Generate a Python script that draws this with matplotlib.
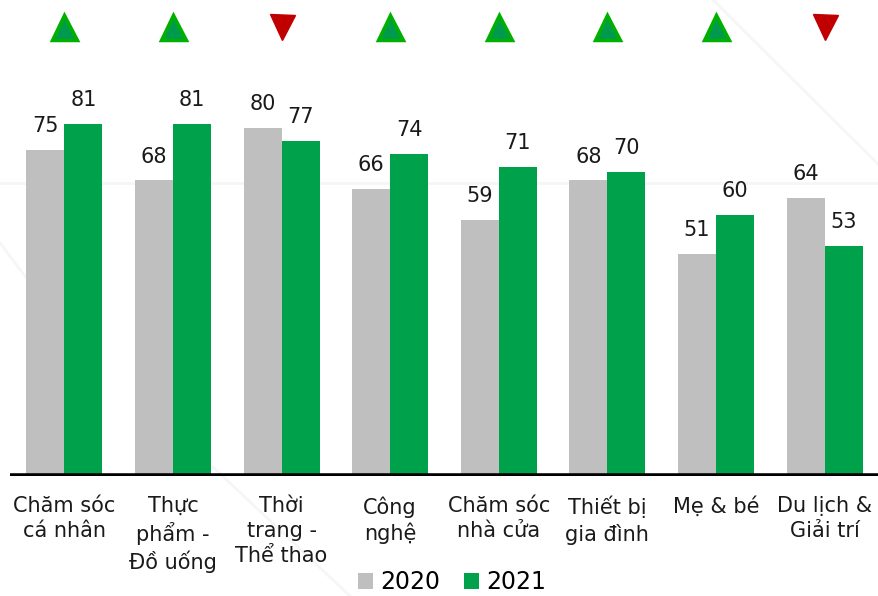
import matplotlib.pyplot as plt
import numpy as np
from matplotlib.lines import Line2D

plt.rcParams['font.family'] = ['DejaVu Sans']

categories = ['Chăm sóc\ncá nhân', 'Thực\nphẩm -\nĐồ uống', 'Thời\ntrang -\nThể thao',
              'Công\nnghệ', 'Chăm sóc\nnhà cửa', 'Thiết bị\ngia đình', 'Mẹ & bé',
              'Du lịch &\nGiải trí']
v2020 = [75, 68, 80, 66, 59, 68, 51, 64]
v2021 = [81, 81, 77, 74, 71, 70, 60, 53]

gray = '#BFBFBF'
green = '#00A14B'
W, H = 879, 596

fig = plt.figure(figsize=(W / 100, H / 100), dpi=100)
ax = fig.add_axes([10 / W, 120 / H, 869 / W, 476 / H])
ax.patch.set_alpha(0)

# faint decorative lines in background
for (x0, y0, x1, y1) in [(0, 183, W, 183), (713, 0, W, 165), (0, 243, 28, 280), (213, 467, 350, 596)]:
    fig.add_artist(Line2D([x0 / W, x1 / W], [1 - y0 / H, 1 - y1 / H], color='#F6F6F6',
                          lw=2, zorder=0))

x = np.arange(len(categories))
bw = 0.35
b1 = ax.bar(x - bw / 2, v2020, bw, color=gray, label='2020', zorder=2)
b2 = ax.bar(x + bw / 2, v2021, bw, color=green, label='2021', zorder=2)

for rects, vals in [(b1, v2020), (b2, v2021)]:
    for r, v in zip(rects, vals):
        ax.annotate(str(v), (r.get_x() + r.get_width() / 2, v), xytext=(0, 10),
                    textcoords='offset points', ha='center', va='bottom',
                    fontsize=15, color='#1a1a1a')

# up / down markers
for i, (a, b) in enumerate(zip(v2020, v2021)):
    if b >= a:
        ax.plot(i, 103.3, marker='^', ms=18, mfc='#009A4E', mec='#00B000', mew=2.5, zorder=3)
    else:
        ax.plot(i, 103.3, marker='v', ms=18, mfc='#C00000', mec='#C00000', mew=1, zorder=3)

ax.axhline(0, color='black', lw=4, zorder=4)
ax.set_xlim(-0.5, len(categories) - 0.5)
ax.set_ylim(0, 109.5)
ax.axis('off')

tr = ax.get_xaxis_transform()
for i, c in enumerate(categories):
    ax.text(i, -20 / 476, c, transform=tr, ha='center', va='top', fontsize=15,
            color='#1a1a1a', linespacing=1.3, multialignment='center')

fig.legend(handles=[b1, b2], labels=['2020', '2021'], loc='center',
           bbox_to_anchor=(452 / W, 1 - 582 / H), ncol=2, frameon=False,
           fontsize=17, handlelength=0.65, handleheight=0.65, handletextpad=0.3,
           columnspacing=1.0, borderpad=0)

fig.savefig('out.png', dpi=100)
